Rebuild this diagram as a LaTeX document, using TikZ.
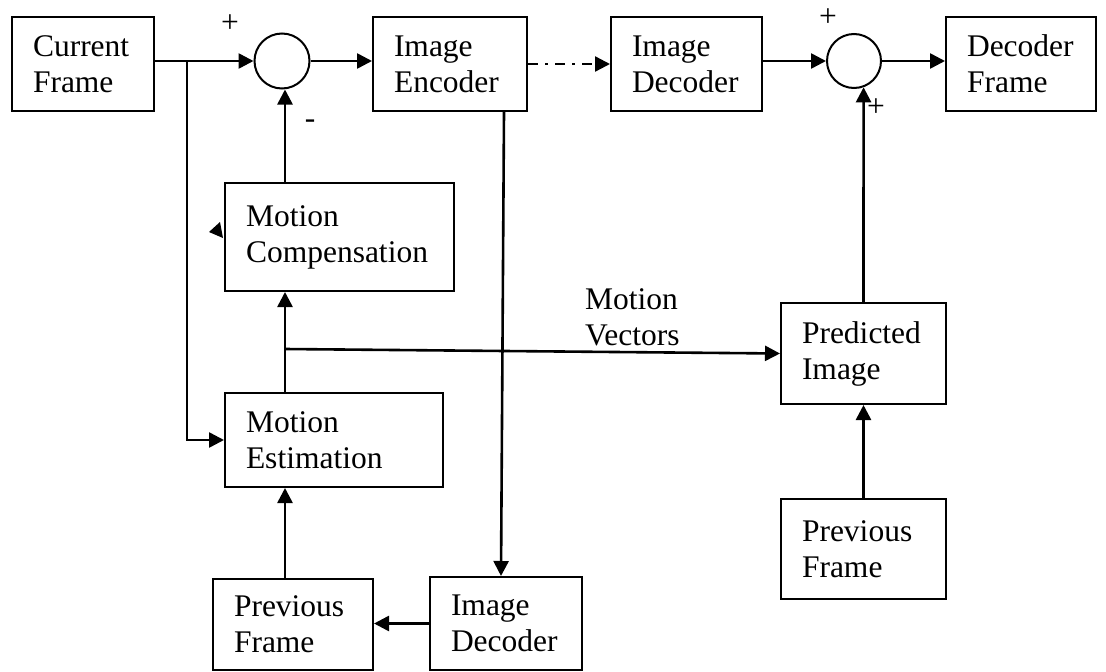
\documentclass[tikz,border=0pt]{standalone}
\usepackage{fontspec}
\setmainfont{Liberation Serif}
\usetikzlibrary{arrows.meta,calc}
\begin{document}
\begin{tikzpicture}[x=1pt,y=-1pt,
  blk/.style={draw, line width=2pt, align=left, inner xsep=21pt, inner ysep=0pt,
    font=\fontsize{31.5}{36}\selectfont},
  sumc/.style={draw, circle, line width=2pt, inner sep=0pt},
  lbl/.style={inner sep=0pt, font=\fontsize{31.5}{36}\selectfont},
  arr/.style={line width=2.6pt, -{Triangle[length=15pt,width=15pt]}},
  dasharr/.style={line width=2.4pt, dash pattern=on 10pt off 7pt on 3pt off 7pt,
    -{Triangle[length=15pt,width=15pt]}}
]
\useasboundingbox (0,0) rectangle (1106,672);

% blocks
\node[blk, text width=100pt, minimum width=142pt, minimum height=94pt] (cf) at (83,64) {Current\\Frame};
\node[blk, text width=112pt, minimum width=154pt, minimum height=94pt] (enc) at (450,64) {Image\\Encoder};
\node[blk, text width=109pt, minimum width=151pt, minimum height=94pt] (dec) at (686.5,64) {Image\\Decoder};
\node[blk, text width=108pt, minimum width=150pt, minimum height=94pt] (df) at (1021,64) {Decoder\\Frame};
\node[blk, text width=187pt, minimum width=229pt, minimum height=108pt] (mc) at (339.5,237) {Motion\\Compensation};
\node[blk, text width=176pt, minimum width=218pt, minimum height=94pt] (me) at (334,440) {Motion\\Estimation};
\node[blk, text width=123pt, minimum width=165pt, minimum height=101pt] (pi) at (863.5,353.5) {Predicted\\Image};
\node[blk, text width=123pt, minimum width=165pt, minimum height=100pt] (pf2) at (863.5,549) {Previous\\Frame};
\node[blk, text width=118pt, minimum width=160pt, minimum height=91pt] (pf1) at (293,624.5) {Previous\\Frame};
\node[blk, text width=110pt, minimum width=152pt, minimum height=93pt] (idec) at (506,623.5) {Image\\Decoder};

% summing junctions
\node[sumc, minimum size=55pt] (s1) at (282,61) {};
\node[sumc, minimum size=54pt] (s2) at (854,61) {};

% labels
\node[lbl] (p1) at (230,24) {+};
\node[lbl] (m1) at (310,124) {-};
\node[lbl] (p2) at (828,18) {+};
\node[lbl] (p3) at (876,108) {+};
\node[lbl, anchor=west, align=left] (mvl) at (585,317) {Motion\\Vectors};

% helper coordinates
\coordinate (b1) at ($(cf.east |- s1)+(32,0)$);
\coordinate (mct) at ($(mc.north west)+(61,0)$);
\coordinate (met) at ($(me.north west)+(61,0)$);
\coordinate (mv) at ($(met)+(0,-43)$);
\coordinate (pft) at ($(pf1.north west)+(73,0)$);
\coordinate (encb) at ($(enc.south west)+(132,0)$);
\coordinate (idect) at ($(idec.north west)+(72,0)$);

% connectors
\draw[arr] (cf.east |- s1) -- (s1.west);
\draw[arr] (b1) |- (me.west);
\draw[arr] (s1.east) -- (enc.west |- s1);
\draw[dasharr] (enc.east) -- (dec.west);
\draw[arr] (dec.east |- s2) -- (s2.west);
\draw[arr] (s2.east) -- (df.west |- s2);
\draw[arr] (mct) -- (mct |- s1.south);
\draw[arr] (met) -- (met |- mc.south);
\draw[arr] (mv) -- (pi.west);
\draw[arr] (pft) -- (pft |- me.south);
\draw[arr] (idec.west) -- (pf1.east |- idec.west);
\draw[arr] (encb) -- (idect);
\draw[arr] (pf2.north) -- (pi.south);
\draw[arr] (pi.north) -- (s2.-70);

% stray arrowhead at the left of Motion Compensation
\fill ($(mc.west)+(-4,-15)$) -- ($(mc.west)+(-15,-5)$) -- ($(mc.west)+(-1,1)$) -- cycle;
\end{tikzpicture}
\end{document}
